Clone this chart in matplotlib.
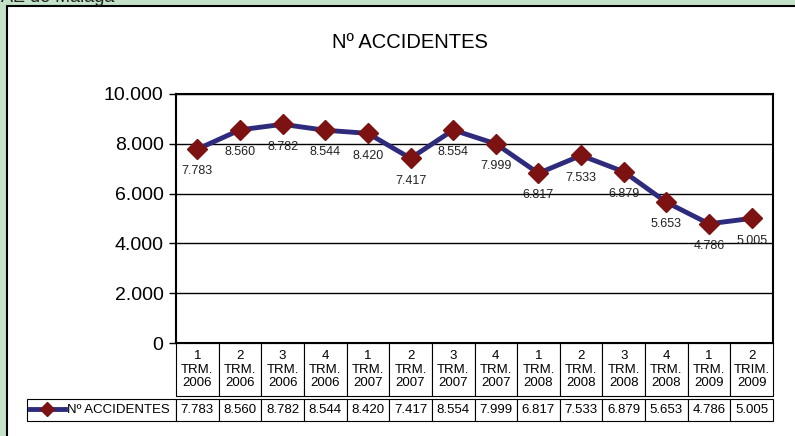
import matplotlib.pyplot as plt
from matplotlib.patches import Rectangle

plt.rcParams['font.family'] = ['Liberation Sans', 'DejaVu Sans']

# data
trimestres = ['1\nTRM.\n2006', '2\nTRM.\n2006', '3\nTRM.\n2006', '4\nTRM.\n2006',
              '1\nTRM.\n2007', '2\nTRM.\n2007', '3\nTRM.\n2007', '4\nTRM.\n2007',
              '1\nTRM.\n2008', '2\nTRM.\n2008', '3\nTRM.\n2008', '4\nTRM.\n2008',
              '1\nTRM.\n2009', '2\nTRIM.\n2009']
accidentes = [7783, 8560, 8782, 8544, 8420, 7417, 8554, 7999,
              6817, 7533, 6879, 5653, 4786, 5005]
yticks = [0, 2000, 4000, 6000, 8000, 10000]


def fmt(v):
    return f'{v:,}'.replace(',', '.')


W, H = 795, 436
fig = plt.figure(figsize=(W / 100, H / 100), dpi=100)
fig.patch.set_facecolor('#c3e2c8')

# white panel with black border
fig.patches.append(Rectangle((7 / W, -0.1), 1.2, 1 - 6 / H + 0.1, transform=fig.transFigure,
                             facecolor='white', edgecolor='black', linewidth=1.5, zorder=-5))
fig.text(1 / W, 1 + 3 / H, 'AE de Málaga', fontsize=13, va='center', ha='left', color='#222222')
fig.text(410 / W, 1 - 42 / H, 'Nº ACCIDENTES', fontsize=14.5, ha='center', va='center')

ax = fig.add_axes([176 / W, 1 - 343 / H, (773 - 176) / W, (343 - 94) / H])
x = list(range(len(accidentes)))
ax.plot(x, accidentes, color='#2e2b7c', linewidth=3.5, marker='D', markersize=10,
        markerfacecolor='#7c1212', markeredgecolor='#7c1212', zorder=3,
        label='Nº ACCIDENTES', clip_on=False)
for xi, v in zip(x, accidentes):
    ax.annotate(fmt(v), (xi, v), xytext=(0, -16), textcoords='offset points',
                ha='center', va='center', fontsize=9, color='#222222')

ax.set_xlim(-0.5, len(accidentes) - 0.5)
ax.set_ylim(0, 10000)
ax.set_yticks(yticks)
ax.set_yticklabels([fmt(t) for t in yticks], fontsize=14)
ax.set_xticks([])
ax.yaxis.grid(True, color='black', linewidth=1)
ax.tick_params(axis='y', direction='out', length=5, width=1, pad=4)
for s in ax.spines.values():
    s.set_linewidth(1.5)

# header table
hdr = ax.table(cellText=[trimestres], cellLoc='center',
               bbox=[0, -(396 - 343) / 249, 1, (396 - 343) / 249])
hdr.auto_set_font_size(False)
hdr.set_fontsize(9.5)
for c in hdr.get_celld().values():
    c.set_linewidth(0.8)
    c.get_text().set_linespacing(1.2)

# data row
legw = (176 - 27) / 597
vals = ax.table(cellText=[[''] + [fmt(v) for v in accidentes]], cellLoc='center',
                colWidths=[legw] + [1 / 14] * 14,
                bbox=[-legw, -(421 - 343) / 249, 1 + legw, (421 - 399) / 249])
vals.auto_set_font_size(False)
vals.set_fontsize(9.5)
for c in vals.get_celld().values():
    c.set_linewidth(0.8)

ax.legend(loc='center left', bbox_to_anchor=(-legw + 2 / 597, -(410 - 343) / 249),
          frameon=False, fontsize=9.5, handlelength=2.6, handletextpad=0.15,
          borderaxespad=0, borderpad=0.1, markerscale=0.7)

fig.savefig('out.png', dpi=100, facecolor=fig.get_facecolor())
